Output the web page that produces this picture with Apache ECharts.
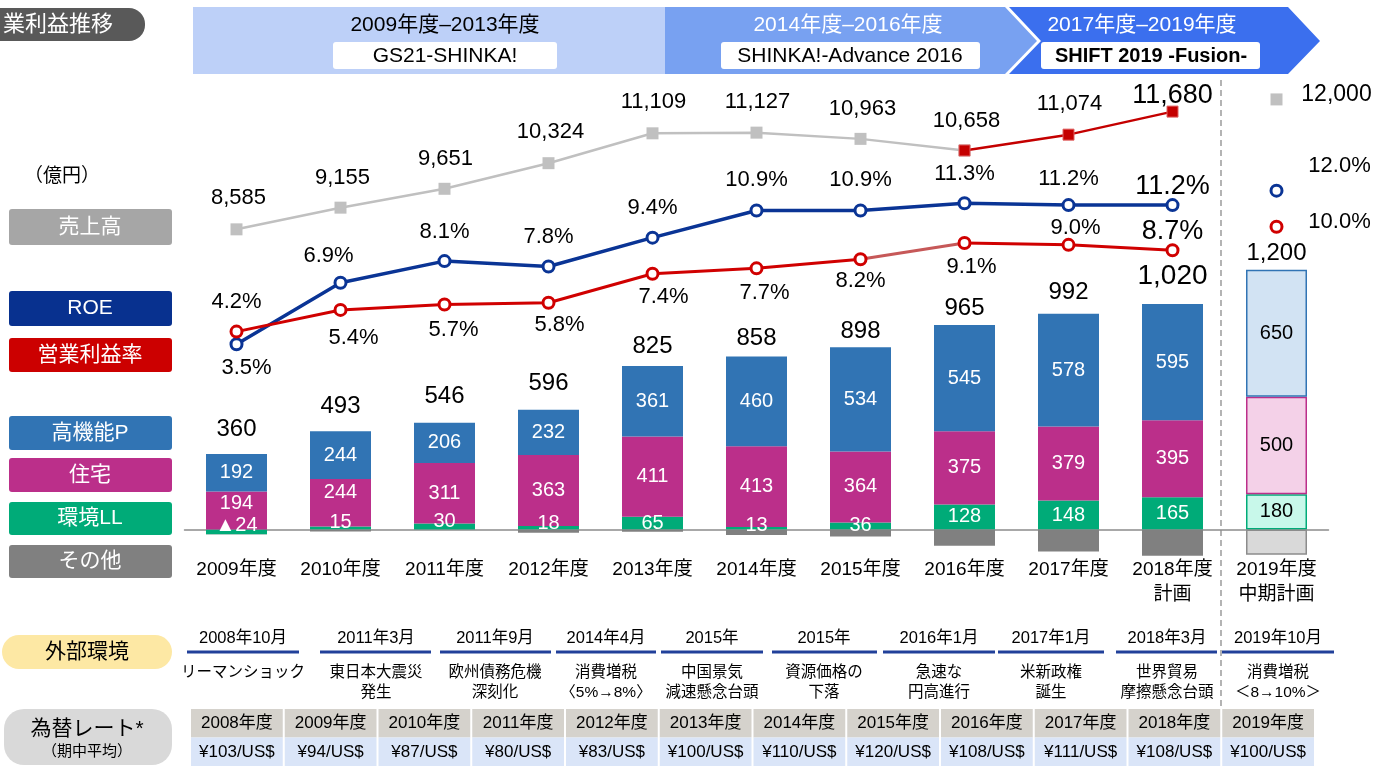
<!DOCTYPE html>
<html>
<head>
<meta charset="utf-8">
<title>営業利益推移</title>
<script src="https://cdn.jsdelivr.net/npm/echarts@6.0.0/dist/echarts.min.js"></script>
<style>
  html, body { margin: 0; padding: 0; background: #fff; }
  #main { width: 1385px; height: 767px; }
</style>
</head>
<body>
<div id="main"></div>
<script>
var FONT = "'Liberation Sans', 'Noto Sans CJK JP', sans-serif";

var categories = ['2009年度', '2010年度', '2011年度', '2012年度', '2013年度', '2014年度',
    '2015年度', '2016年度', '2017年度', '2018年度\n計画', '2019年度\n中期計画'];

// 事業別営業利益（億円）
var highPerf = [192, 244, 206, 232, 361, 460, 534, 545, 578, 595, 650];
var housing  = [194, 244, 311, 363, 411, 413, 364, 375, 379, 395, 500];
var envLL    = [-24, 15, 30, 18, 65, 13, 36, 128, 148, 165, 180];
var others   = [-2, -10, -1, -17, -12, -28, -36, -83, -113, -135, -130];
var totals   = [360, 493, 546, 596, 825, 858, 898, 965, 992, 1020, 1200];

// 売上高（億円）・ROE・営業利益率（%）
var sales    = [8585, 9155, 9651, 10324, 11109, 11127, 10963, 10658, 11074, 11680];
var roe      = [3.5, 6.9, 8.1, 7.8, 9.4, 10.9, 10.9, 11.3, 11.2, 11.2];
var opMargin = [4.2, 5.4, 5.7, 5.8, 7.4, 7.7, 8.2, 9.1, 9.0, 8.7];

// 2019年度 中期計画
var planSales = 12000;
var planRoe = 12.0;
var planOpMargin = 10.0;

// 外部環境
var eventDates = ['2008年10月', '2011年3月', '2011年9月', '2014年4月', '2015年', '2015年',
    '2016年1月', '2017年1月', '2018年3月', '2019年10月'];
var eventTexts = ['リーマンショック', '東日本大震災\n発生', '欧州債務危機\n深刻化', '消費増税\n〈5%→8%〉',
    '中国景気\n減速懸念台頭', '資源価格の\n下落', '急速な\n円高進行', '米新政権\n誕生',
    '世界貿易\n摩擦懸念台頭', '消費増税\n＜8→10%＞'];

// 為替レート（期中平均）
var rateYears = ['2008年度', '2009年度', '2010年度', '2011年度', '2012年度', '2013年度',
    '2014年度', '2015年度', '2016年度', '2017年度', '2018年度', '2019年度'];
var rateValues = ['¥103/US$', '¥94/US$', '¥87/US$', '¥80/US$', '¥83/US$', '¥100/US$',
    '¥110/US$', '¥120/US$', '¥108/US$', '¥111/US$', '¥108/US$', '¥100/US$'];

// ---- layout (label nudges, positions) ----
var PLAN = 10;
var salesLabelOffset = [[2, -31], [2, -30], [1, -30], [2, -31], [1, -31], [1, -31], [2, -30], [2, -30], [1, -31], [0, -16]];
var roeLabelOffset = [[10, 24], [-12, -27], [0, -29], [0, -30], [0, -30], [0, -31], [0, -31], [0, -29], [0, -26], [0, -19]];
var opLabelOffset = [[0, -30], [13, 28], [9, 25], [11, 22], [11, 23], [8, 25], [0, 22], [7, 24], [7, -17], [0, -19]];
var totalLabelLift = [25, 25, 26, 26, 20, 18, 16, 17, 21, 28, 16];
var housingLabelShift = [-7, -10, 0, 0, 0, 0, 0, 0, 0, 0, 0];
var envLabelShift = [-6, -6, -5, -4, 0, -3, 0, 0, 0, 0, 0];
var eventX = [243, 376, 495, 606, 712, 824, 939, 1051, 1167, 1278];
var eventLine = [[187, 299], [320, 431], [440, 551], [556, 656], [661, 763], [772, 877],
    [883, 995], [998, 1104], [1116, 1217], [1222, 1334]];

function fmtNum(v) {
    return String(v).replace(/\B(?=(\d{3})+(?!\d))/g, ',');
}

function barItems(values, planFill, planBorder, shift) {
    return values.map(function (v, i) {
        var item = { value: v };
        var lbl = {};
        if (shift && shift[i]) lbl.offset = [0, shift[i]];
        if (i === PLAN) {
            item.itemStyle = { color: planFill, borderColor: planBorder, borderWidth: 1.5 };
            lbl.color = '#000';
        }
        item.label = lbl;
        return item;
    });
}

function lineItems(values, from, to, labelFrom, labelTo, offsets) {
    return categories.map(function (c, i) {
        if (i < from || i > to || i >= values.length) return '-';
        var show = i >= labelFrom && i <= labelTo;
        return {
            value: values[i],
            label: { show: show, offset: offsets[i], fontSize: i === 9 ? 27 : 22 }
        };
    });
}

function planItems(v, offset) {
    return categories.map(function (c, i) {
        return i === PLAN ? { value: v, label: { offset: offset } } : '-';
    });
}

var pctFmt = function (p) { return p.value.toFixed(1) + '%'; };
var numFmt = function (p) { return fmtNum(p.value); };

var lineLabel = { show: true, position: 'inside', color: '#000', fontSize: 22, fontFamily: FONT };

var stackTops = highPerf.map(function (v, i) { return v + housing[i] + Math.max(envLL[i], 0); });

var ROE_C = '#0a3495', OP_C = '#d00000', SALES_C = '#c0c0c0', SALES_R = '#c40000';

var series = [
    {
        name: '環境LL', type: 'bar', stack: 'profit', barWidth: 61,
        data: barItems(envLL, '#c8f8ea', '#00ab78', envLabelShift),
        itemStyle: { color: '#00ab78' },
        label: { show: true, position: 'inside', color: '#fff', fontSize: 20, fontFamily: FONT,
            formatter: function (p) { return p.value < 0 ? '▲' + (-p.value) : p.value; } }
    },
    {
        name: '住宅', type: 'bar', stack: 'profit', barWidth: 61,
        data: barItems(housing, '#f4d1e8', '#bb2f8a', housingLabelShift),
        itemStyle: { color: '#bb2f8a' },
        label: { show: true, position: 'inside', color: '#fff', fontSize: 20, fontFamily: FONT }
    },
    {
        name: '高機能P', type: 'bar', stack: 'profit', barWidth: 61,
        data: barItems(highPerf, '#d2e3f3', '#3174b4'),
        itemStyle: { color: '#3174b4' },
        label: { show: true, position: 'inside', color: '#fff', fontSize: 20, fontFamily: FONT }
    },
    {
        name: 'その他', type: 'bar', stack: 'profit', barWidth: 61,
        data: barItems(others, '#d9d9d9', '#8c8c8c'),
        itemStyle: { color: '#808080' }
    },
    {
        name: '合計', type: 'scatter', symbolSize: 1,
        itemStyle: { color: 'rgba(0,0,0,0)', opacity: 1 },
        data: stackTops.map(function (v, i) {
            return { value: v, label: { offset: [0, -totalLabelLift[i]], fontSize: i === 9 ? 28 : 24 } };
        }),
        label: { show: true, position: 'inside', color: '#000', fontSize: 24, fontFamily: FONT,
            formatter: function (p) { return fmtNum(totals[p.dataIndex]); } }
    },
    // 売上高
    {
        name: '売上高', type: 'line', xAxisIndex: 2, yAxisIndex: 2, z: 3,
        data: lineItems(sales, 0, 7, 0, 6, salesLabelOffset),
        symbol: 'rect', symbolSize: 12,
        itemStyle: { color: SALES_C }, lineStyle: { color: SALES_C, width: 2.5 },
        label: Object.assign({ formatter: numFmt }, lineLabel)
    },
    {
        name: '売上高2', type: 'line', xAxisIndex: 2, yAxisIndex: 2, z: 4,
        data: lineItems(sales, 7, 9, 7, 9, salesLabelOffset),
        symbol: 'rect', symbolSize: 11,
        itemStyle: { color: SALES_R, borderColor: '#e06060', borderWidth: 1 },
        lineStyle: { color: SALES_R, width: 2.5 },
        label: Object.assign({ formatter: numFmt }, lineLabel)
    },
    {
        name: '売上高計画', type: 'scatter', xAxisIndex: 2, yAxisIndex: 2,
        data: planItems(planSales, [60, -5]),
        symbol: 'rect', symbolSize: 12, itemStyle: { color: SALES_C, opacity: 1 },
        label: Object.assign({}, lineLabel, { fontSize: 23, formatter: numFmt })
    },
    // ROE
    {
        name: 'ROE', type: 'line', xAxisIndex: 1, yAxisIndex: 1, z: 3,
        data: lineItems(roe, 0, 9, 0, 9, roeLabelOffset),
        symbol: 'circle', symbolSize: 11,
        itemStyle: { color: '#fff', borderColor: ROE_C, borderWidth: 3 },
        lineStyle: { color: ROE_C, width: 3.5 },
        label: Object.assign({ formatter: pctFmt }, lineLabel)
    },
    {
        name: 'ROE計画', type: 'scatter', xAxisIndex: 1, yAxisIndex: 1,
        data: planItems(planRoe, [63, -25]),
        symbol: 'circle', symbolSize: 11,
        itemStyle: { color: '#fff', borderColor: ROE_C, borderWidth: 3, opacity: 1 },
        label: Object.assign({}, lineLabel, { formatter: pctFmt })
    },
    // 営業利益率
    {
        name: '営業利益率2015-2016', type: 'line', xAxisIndex: 1, yAxisIndex: 1, z: 3,
        data: lineItems(opMargin, 6, 7, 99, 99, opLabelOffset),
        symbol: 'none',
        lineStyle: { color: '#c65858', width: 3 }
    },
    {
        name: '営業利益率', type: 'line', xAxisIndex: 1, yAxisIndex: 1, z: 3,
        data: lineItems(opMargin, 0, 6, 0, 6, opLabelOffset),
        symbol: 'circle', symbolSize: 11,
        itemStyle: { color: '#fff', borderColor: OP_C, borderWidth: 3 },
        lineStyle: { color: OP_C, width: 3 },
        label: Object.assign({ formatter: pctFmt }, lineLabel)
    },
    {
        name: '営業利益率2', type: 'line', xAxisIndex: 1, yAxisIndex: 1, z: 3,
        data: lineItems(opMargin, 7, 9, 7, 9, opLabelOffset),
        symbol: 'circle', symbolSize: 11,
        itemStyle: { color: '#fff', borderColor: OP_C, borderWidth: 3 },
        lineStyle: { color: OP_C, width: 3 },
        label: Object.assign({ formatter: pctFmt }, lineLabel)
    },
    {
        name: '営業利益率計画', type: 'scatter', xAxisIndex: 1, yAxisIndex: 1,
        data: planItems(planOpMargin, [63, -5]),
        symbol: 'circle', symbolSize: 11,
        itemStyle: { color: '#fff', borderColor: OP_C, borderWidth: 3, opacity: 1 },
        label: Object.assign({}, lineLabel, { formatter: pctFmt })
    }
];

// ---- decorations: header, side legend, bottom tables ----
var g = [];
function box(x, y, w, h, fill, r, z) {
    g.push({ type: 'rect', z: z || 1, shape: { x: x, y: y, width: w, height: h, r: r || 0 }, style: { fill: fill } });
}
function txt(x, y, s, size, color, opts) {
    opts = opts || {};
    g.push({
        type: 'text', z: 2, x: x, y: y,
        style: {
            text: s, fill: color, fontSize: size, fontFamily: FONT,
            fontWeight: opts.weight || 'normal', align: opts.align || 'center',
            verticalAlign: opts.valign || 'middle', lineHeight: opts.lh
        }
    });
}

// title pill
box(-20, 8, 165, 33, '#595959', 16);
txt(3, 25, '業利益推移', 22, '#fff', { align: 'left' });

// mid-term plan banner
box(193, 7, 472, 67, '#bdd0f8');
g.push({ type: 'polygon', z: 1, shape: { points: [[665, 7], [1005, 7], [1037, 41], [1005, 74], [665, 74]] }, style: { fill: '#78a1f1' } });
g.push({ type: 'polygon', z: 1, shape: { points: [[1009, 7], [1288, 7], [1320, 41], [1288, 74], [1009, 74], [1041, 41]] }, style: { fill: '#3b6fee' } });
txt(445, 25, '2009年度–2013年度', 21, '#000');
txt(848, 25, '2014年度–2016年度', 21, '#fff');
txt(1142, 25, '2017年度–2019年度', 21, '#fff');
box(333, 42, 224, 27, '#fff', 3, 2);
box(721, 42, 259, 27, '#fff', 3, 2);
box(1041, 42, 219, 27, '#fff', 3, 2);
txt(445, 56, 'GS21-SHINKA!', 21, '#000');
txt(850, 56, 'SHINKA!-Advance 2016', 21, '#000');
txt(1151, 56, 'SHIFT 2019 -Fusion-', 20, '#000', { weight: 'bold' });

// unit + side legend
txt(62, 177, '（億円）', 19, '#000');
var legendBoxes = [
    { text: '売上高', y: 209, h: 36, fill: '#a6a6a6' },
    { text: 'ROE', y: 291, h: 35, fill: '#08318f' },
    { text: '営業利益率', y: 338, h: 34, fill: '#cc0000' },
    { text: '高機能P', y: 416, h: 34, fill: '#3174b4' },
    { text: '住宅', y: 458, h: 34, fill: '#bb2f8a' },
    { text: '環境LL', y: 502, h: 33, fill: '#00ab78' },
    { text: 'その他', y: 545, h: 33, fill: '#808080' }
];
legendBoxes.forEach(function (b) {
    box(9, b.y, 163, b.h, b.fill, 3);
    txt(90, b.y + b.h / 2, b.text, 21, '#fff');
});

// plan separator
g.push({ type: 'line', z: 1, shape: { x1: 1221, y1: 80, x2: 1221, y2: 706 }, style: { stroke: '#8c8c8c', lineWidth: 1.3, lineDash: [6, 4] } });

// 外部環境
box(2, 635, 170, 34, '#fde8a4', 17);
txt(87, 652, '外部環境', 21, '#000');
eventDates.forEach(function (d, i) {
    txt(eventX[i], 638, d, 16.5, '#000');
    g.push({ type: 'line', z: 2, shape: { x1: eventLine[i][0], y1: 652, x2: eventLine[i][1], y2: 652 }, style: { stroke: '#21409a', lineWidth: 3 } });
    txt(eventX[i], 663, eventTexts[i], 15.5, '#000', { valign: 'top', lh: 19.5 });
});

// 為替レート
box(4, 709, 168, 56, '#d9d9d9', 20);
txt(87, 729, '為替レート*', 21, '#000');
txt(87, 752, '（期中平均）', 15, '#000');
var colW = 93.75;
rateYears.forEach(function (y, i) {
    var x = 190 + i * colW;
    box(x + 1, 709, colW - 2, 28.5, '#d5d2cc');
    box(x + 1, 737.5, colW - 2, 28.5, '#dae5f8');
    txt(x + colW / 2, 723.5, y, 17, '#000');
    txt(x + colW / 2, 752, rateValues[i], 17, '#000');
});

var gridBase = { left: 184.5, width: 1144, containLabel: false, outerBoundsMode: 'none' };

var option = {
    animation: false,
    backgroundColor: '#fff',
    textStyle: { fontFamily: FONT },
    grid: [
        Object.assign({ top: 256.2, height: 312.3 }, gridBase),
        Object.assign({ top: 154.5, height: 253 }, gridBase),
        Object.assign({ top: 80.4, height: 171.2 }, gridBase)
    ],
    xAxis: [
        {
            gridIndex: 0, type: 'category', data: categories,
            axisLine: { onZero: true, lineStyle: { color: '#8c8c8c', width: 1.5 } },
            axisTick: { show: false },
            axisLabel: { interval: 0, margin: -11, fontSize: 19, lineHeight: 25, color: '#000', fontFamily: FONT }
        },
        { gridIndex: 1, type: 'category', data: categories, show: false },
        { gridIndex: 2, type: 'category', data: categories, show: false }
    ],
    yAxis: [
        { gridIndex: 0, type: 'value', min: -200, max: 1400, show: false },
        { gridIndex: 1, type: 'value', min: 0, max: 14, show: false },
        { gridIndex: 2, type: 'value', min: 8000, max: 12500, show: false }
    ],
    graphic: g,
    series: series
};

var chart = echarts.init(document.getElementById('main'));
chart.setOption(option);
</script>
</body>
</html>
